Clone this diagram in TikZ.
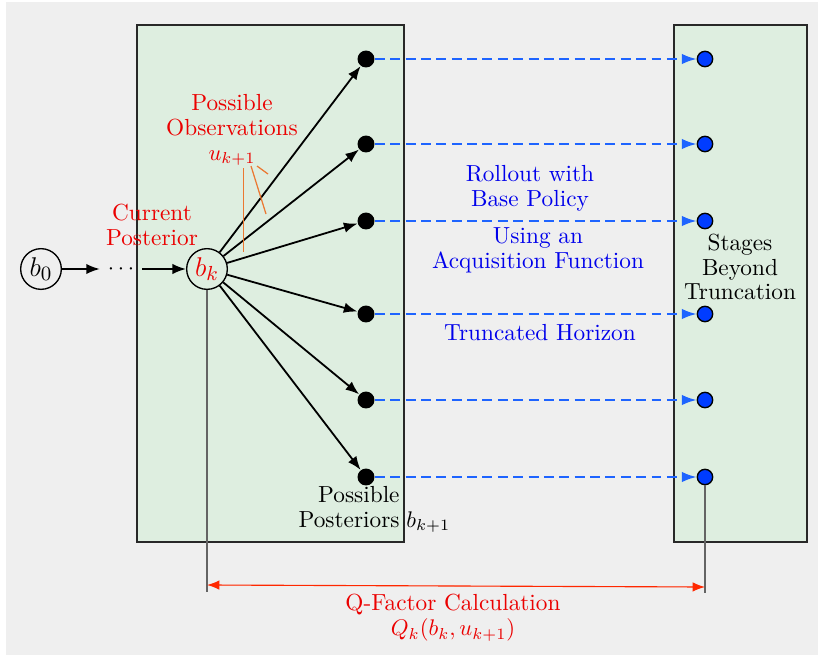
\documentclass[tikz,border=0pt]{standalone}
\usetikzlibrary{arrows.meta}
\definecolor{bgGray}{RGB}{239,239,239}
\definecolor{boxGreen}{RGB}{222,238,224}
\definecolor{dashBlue}{RGB}{30,100,255}
\definecolor{dotBlue}{RGB}{0,60,255}
\definecolor{arrowRed}{RGB}{255,40,0}
\definecolor{orangeLine}{RGB}{235,120,50}
\definecolor{txtRed}{RGB}{235,0,0}
\definecolor{txtBlue}{RGB}{0,0,235}
\definecolor{borderGray}{RGB}{40,40,40}
\definecolor{lineGray}{RGB}{100,100,100}
\begin{document}
\begin{tikzpicture}[x=0.4425pt,y=-0.4425pt,
  stagebox/.style={fill=boxGreen,draw=borderGray,line width=0.9pt},
  state/.style={circle,draw,line width=0.6pt,minimum size=18pt,inner sep=0pt,font=\fontsize{12.4}{14}\selectfont},
  blackdot/.style={circle,fill=black,minimum size=7.5pt,inner sep=0pt},
  bluedot/.style={circle,fill=dotBlue,draw=black,line width=0.6pt,minimum size=6.8pt,inner sep=0pt},
  arr/.style={-{Latex[length=6pt,width=4.6pt]},line width=0.8pt},
  rollout/.style={-{Latex[length=6.5pt,width=4.6pt]},dashed,dash pattern=on 4.4pt off 2.4pt,line width=0.9pt,draw=dashBlue,color=dashBlue},
  lbl/.style={align=center,font=\fontsize{10.3}{11}\selectfont,inner sep=0pt},
  vline/.style={draw=lineGray,line width=0.5pt},
  annot/.style={draw=orangeLine,line width=0.55pt}]
\useasboundingbox (0,0) rectangle (818,655);
\fill[white] (0,0) rectangle (818,655);
\fill[bgGray] (6,2) rectangle (818,655);
% boxes
\draw[stagebox] (137,25) rectangle (404,542);
\draw[stagebox] (674,25) rectangle (807,542);
% left chain
\node[state] (b0) at (41,269) {$b_0$};
\node (dd) at (121,269) {$\cdots$};
\node[state] (bk) at (207,269) {\textcolor{txtRed}{$b_k$}};
\draw[arr] (b0) -- (dd);
\draw[arr] (dd) -- (bk);
% posterior dots
\foreach \i/\y in {1/59,2/144,3/221,4/314,5/400,6/477}{
  \node[blackdot] (d\i) at (366,\y) {};
  \node[bluedot] (e\i) at (705,\y) {};
}
\foreach \i in {1,...,6}{
  \draw[arr] (bk) -- (d\i);
  \draw[rollout] (d\i) -- (e\i);
}
% orange annotation lines
\draw[annot] (243.5,168) -- (243.5,252);
\draw[annot] (251,166) -- (266,214);
\draw[annot] (257,166) -- (268,174);
% labels
\node[lbl,text=txtRed] (obs) at (232,130) {Possible\\Observations\\$u_{k+1}$};
\node[lbl,text=txtRed] (cur) at (152,225) {Current\\Posterior};
\node[lbl,text=txtBlue] (roll) at (530,188) {Rollout with\\Base Policy};
\node[lbl,text=txtBlue] (acq) at (538,250) {Using an\\Acquisition Function};
\node[lbl,text=txtBlue] (trunc) at (540,333) {Truncated Horizon};
\node[lbl] (stages) at (740,267) {Stages\\Beyond\\Truncation};
\node[lbl,align=right,anchor=base east] (pp) at (400,527) {Possible\\Posteriors};
\node[lbl,anchor=base west] (bk1) at (406,527) {$b_{k+1}$};
% Q-factor
\coordinate (qa) at (207,592);
\coordinate (qb) at (705,593);
\draw[vline] (bk) -- (qa);
\draw[vline] (e6) -- (qb);
\coordinate (ra) at (207,585);
\coordinate (rb) at (705,587);
\draw[{Latex[length=5.5pt,width=4.2pt]}-{Latex[length=5.5pt,width=4.2pt]},draw=arrowRed,fill=arrowRed,line width=0.5pt] (ra) -- (rb);
\node[lbl,text=txtRed] (qf) at (453,618) {Q-Factor Calculation\\$Q_k(b_k,u_{k+1})$};
\end{tikzpicture}
\end{document}
